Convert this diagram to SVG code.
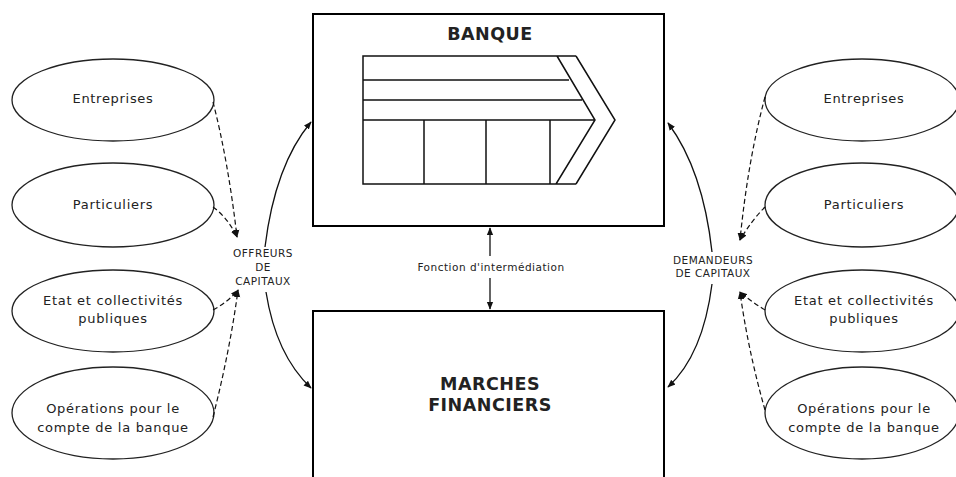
<svg xmlns="http://www.w3.org/2000/svg" width="956" height="477" viewBox="0 0 956 477">
<defs>
<style>
.box{fill:#fff;stroke:#000;stroke-width:2}
.ell{fill:#fff;stroke:#222;stroke-width:1.3}
.t{font-family:"DejaVu Sans","Liberation Sans",Arial,sans-serif;font-size:13px;letter-spacing:0.7px;fill:#222;text-anchor:middle}
.s{font-family:"DejaVu Sans","Liberation Sans",Arial,sans-serif;font-size:10.5px;letter-spacing:0.5px;fill:#222;text-anchor:middle}
.b{font-family:"DejaVu Sans","Liberation Sans",Arial,sans-serif;font-size:17.5px;font-weight:bold;letter-spacing:0.5px;fill:#222;text-anchor:middle}
.solid{fill:none;stroke:#111;stroke-width:1.3}
.dash{fill:none;stroke:#111;stroke-width:1.2;stroke-dasharray:5 3}
.fig{fill:none;stroke:#111;stroke-width:1.5}
</style>
<marker id="ah" viewBox="0 0 10 10" refX="9" refY="5" markerWidth="8" markerHeight="8" orient="auto-start-reverse" markerUnits="userSpaceOnUse">
<path d="M0,1 L10,5 L0,9 Z" fill="#111"/>
</marker>
</defs>
<rect width="956" height="477" fill="#fff"/>

<g id="banque">
<rect class="box" x="313" y="14" width="351" height="212"/>
<text class="b" x="490" y="40">BANQUE</text>
<path class="fig" d="M576,56 L363,56 L363,184 L576,184 M557,56 L595,120 L556,184 M576,56 L615,120 L576,184 M363,80 L569,80 M363,100 L582,100 M363,120 L595,120 M424,120 L424,184 M486,120 L486,184 M550,120 L550,184"/>
</g>

<g id="marches">
<rect class="box" x="313" y="311" width="351" height="180"/>
<text class="b" x="490" y="390">MARCHES</text>
<text class="b" x="490" y="411">FINANCIERS</text>
</g>

<g id="l-entreprises"><ellipse class="ell" cx="113" cy="100" rx="101" ry="41"/><text class="t" x="113" y="103">Entreprises</text></g>
<g id="l-particuliers"><ellipse class="ell" cx="113" cy="205" rx="101" ry="42"/><text class="t" x="113" y="209">Particuliers</text></g>
<g id="l-etat"><ellipse class="ell" cx="113" cy="311" rx="101" ry="41"/><text class="t" x="113" y="305">Etat et collectivités</text><text class="t" x="113" y="323">publiques</text></g>
<g id="l-operations"><ellipse class="ell" cx="113" cy="413" rx="101" ry="46"/><text class="t" x="113" y="413">Opérations pour le</text><text class="t" x="113" y="432">compte de la banque</text></g>

<g id="r-entreprises"><ellipse class="ell" cx="862" cy="100" rx="97" ry="41"/><text class="t" x="864" y="103">Entreprises</text></g>
<g id="r-particuliers"><ellipse class="ell" cx="862" cy="205" rx="97" ry="42"/><text class="t" x="864" y="209">Particuliers</text></g>
<g id="r-etat"><ellipse class="ell" cx="862" cy="311" rx="97" ry="41"/><text class="t" x="864" y="305">Etat et collectivités</text><text class="t" x="864" y="323">publiques</text></g>
<g id="r-operations"><ellipse class="ell" cx="862" cy="413" rx="97" ry="46"/><text class="t" x="864" y="413">Opérations pour le</text><text class="t" x="864" y="432">compte de la banque</text></g>

<g id="offreurs">
<text class="s" x="263" y="257">OFFREURS</text>
<text class="s" x="263" y="271">DE</text>
<text class="s" x="263" y="285">CAPITAUX</text>
</g>
<g id="demandeurs">
<text class="s" x="713" y="264">DEMANDEURS</text>
<text class="s" x="713" y="277">DE CAPITAUX</text>
</g>
<g id="intermediation">
<text class="s" x="491" y="271">Fonction d'intermédiation</text>
</g>

<g id="connectors">
<path class="dash" d="M213,102 Q228,160 237,237" marker-end="url(#ah)"/>
<path class="dash" d="M213,207 Q228,218 237,237" marker-end="url(#ah)"/>
<path class="dash" d="M213,310 Q228,302 238,290" marker-end="url(#ah)"/>
<path class="dash" d="M213,417 Q230,350 238,290" marker-end="url(#ah)"/>
<path class="dash" d="M765,97 Q748,160 740,240" marker-end="url(#ah)"/>
<path class="dash" d="M765,207 Q752,220 740,240" marker-end="url(#ah)"/>
<path class="dash" d="M765,310 Q752,302 740,292" marker-end="url(#ah)"/>
<path class="dash" d="M765,410 Q748,350 740,292" marker-end="url(#ah)"/>
<path class="solid" d="M265,247 Q275,165 311,122" marker-end="url(#ah)"/>
<path class="solid" d="M266,292 Q276,355 311,388" marker-end="url(#ah)"/>
<path class="solid" d="M712,252 Q703,170 668,123" marker-end="url(#ah)"/>
<path class="solid" d="M712,284 Q703,355 668,387" marker-end="url(#ah)"/>
<path class="solid" d="M490,256 L490,228" marker-end="url(#ah)"/>
<path class="solid" d="M490,278 L490,309" marker-end="url(#ah)"/>
</g>
</svg>
